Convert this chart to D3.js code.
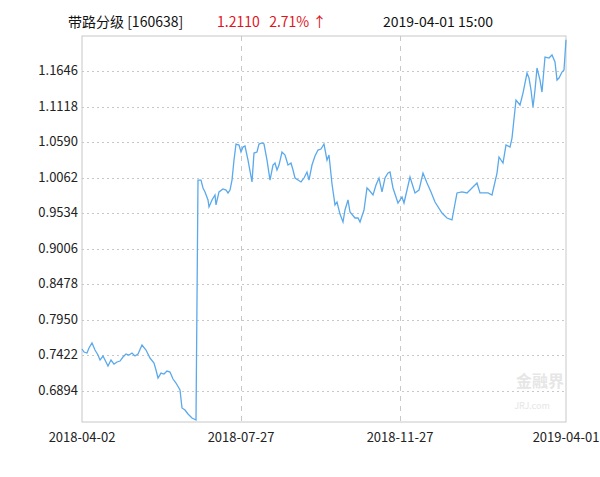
<!DOCTYPE html><html><head><meta charset="utf-8"><script src="https://cdn.jsdelivr.net/npm/d3@7"></script>
<style>body{margin:0;background:#fff}text{font-family:"Noto Sans CJK SC","DejaVu Sans",sans-serif}</style></head><body><svg id="c" width="600" height="477"></svg><script>
const yTicks=[1.1646,1.1118,1.0590,1.0062,0.9534,0.9006,0.8478,0.7950,0.7422,0.6894];
const xLabels=[["2018-04-02",0],["2018-07-27",159],["2018-11-27",318],["2019-04-01",484]];
const seg1T=[0,2,5,7,10,13,16,18,21,24,26,29,32,35,38,41,44,47,50,53,56,60,64,68,72,74,76,79,82,85,88,91,94,98,100,103,106,110,114];
const seg1V=[.7518,.7473,.7458,.7533,.7607,.7503,.7429,.7354,.7414,.7325,.7265,.7354,.7295,.7325,.7339,.7399,.7444,.7429,.7458,.7414,.7444,.7577,.7503,.7384,.7310,.7206,.7087,.7161,.7146,.7191,.7176,.7072,.7013,.6909,.6642,.6612,.6553,.6493,.6463];
const seg2T=[116,119,121,123,126,127,130,133,134,137,141,144,146,148,150,152,154,157,159,161,163,166,170,172,175,177,180,182,185,188,191,193,195,197,200,203,206,209,211,213,216,219,222,225,227,230,233,236,239,242,245,247,250,253,255,258,261,263,266,268,273,276,278,282,285,287,291,294,297,300,303,306,308];
const seg2V=[1.0027,1.0027,.9909,.9850,.9731,.9627,.9731,.9805,.9657,.9850,.9894,.9879,.9835,.9879,1.0027,1.0324,1.0562,1.0547,1.0443,1.0517,1.0532,1.0324,.9998,1.0428,1.0443,1.0562,1.0577,1.0562,1.0324,1.0027,1.0250,1.0280,1.0176,1.0250,1.0443,1.0399,1.0250,1.0280,1.0176,1.0057,1.0027,.9998,1.0057,1.0146,1.0027,1.0250,1.0384,1.0473,1.0488,1.0562,1.0324,1.0399,.9968,.9657,.9701,.9522,.9404,.9582,.9731,.9552,.9463,.9463,.9404,.9582,.9909,.9879,.9805,.9953,1.0057,.9850,1.0057,1.0131,1.0146];
const seg3T=[311,316,320,322,328,333,337,341,345,349,353,360,365,370,375,380,385,390,395,398,406,410,415,417,421,424,428,430,434,438,441,445,447,449,451,453,455,458,460,463,467,470,473,475,477,480,482,484];
const seg3V=[.9909,.9686,.9775,.9686,1.0072,.9835,.9879,1.0131,.9983,.9850,.9701,.9537,.9463,.9434,.9835,.9850,.9835,.9909,.9983,.9835,.9835,.9805,1.0131,1.0369,1.0280,1.0547,1.0517,1.0651,1.1215,1.1141,1.1319,1.1616,1.1542,1.1364,1.1111,1.1364,1.1691,1.1512,1.1334,1.1854,1.1839,1.1884,1.1780,1.1512,1.1542,1.1631,1.1661,1.2110];
const T=seg1T.concat(seg2T,seg3T), V=seg1V.concat(seg2V,seg3V);
const data=T.map((t,i)=>[t,V[i]]);
const L=82,R=566,Tp=36,B=422;
const svg=d3.select("#c");
const x=d3.scaleLinear().domain([0,484]).range([L,R]);
const y=d3.scaleLinear().domain([0.6434,1.2166]).range([B,Tp]);
svg.append("rect").attr("x",L).attr("y",Tp).attr("width",R-L).attr("height",B-Tp).attr("fill","none").attr("stroke","#c8c8c8");
svg.selectAll(".hg").data(yTicks).join("line").attr("x1",L).attr("x2",R).attr("y1",d=>Math.round(y(d))+.5).attr("y2",d=>Math.round(y(d))+.5).attr("stroke","#c8c8c8").attr("stroke-dasharray","2,3");
svg.selectAll(".vg").data(xLabels.slice(1,3)).join("line").attr("x1",d=>x(d[1])+.5).attr("x2",d=>x(d[1])+.5).attr("y1",Tp).attr("y2",B).attr("stroke","#c8c8c8").attr("stroke-dasharray","5,5");
svg.selectAll(".yl").data(yTicks).join("text").attr("x",L-4).attr("y",d=>y(d)+4).attr("text-anchor","end").attr("font-size",13).attr("fill","#222").text(d=>d.toFixed(4));
svg.selectAll(".xl").data(xLabels).join("text").attr("x",d=>x(d[1])).attr("y",442).attr("text-anchor","middle").attr("font-size",13).attr("fill","#222").text(d=>d[0]);
svg.append("text").attr("x",540).attr("y",387).attr("text-anchor","middle").attr("font-size",16).attr("font-weight","bold").attr("fill","#e6e6e6").text("金融界");
svg.append("text").attr("x",532).attr("y",409).attr("text-anchor","middle").attr("font-size",9).attr("fill","#e6e6e6").text("JRJ.com");
svg.append("path").datum(data).attr("fill","none").attr("stroke","#5aa9ec").attr("stroke-width",1.3).attr("d",d3.line().x(d=>x(d[0])).y(d=>y(d[1])));
svg.append("text").attr("x",68).attr("y",27).attr("font-size",14).attr("fill","#111").text("带路分级 [160638]");
svg.append("text").attr("x",217).attr("y",27).attr("font-size",14).attr("fill","#e0141e").attr("xml:space","preserve").text("1.2110   2.71% ↑");
svg.append("text").attr("x",383).attr("y",27).attr("font-size",14).attr("fill","#111").text("2019-04-01 15:00");
</script></body></html>
